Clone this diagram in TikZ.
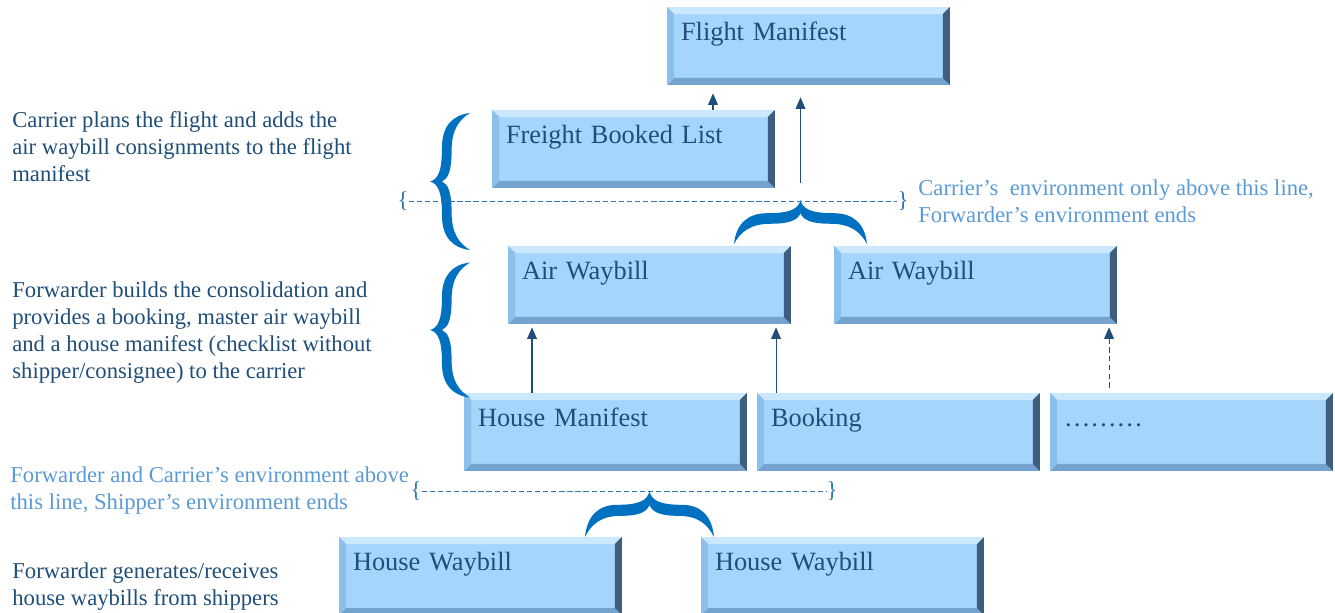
\documentclass[tikz,border=0pt]{standalone}
\usepackage{fontspec}
\setmainfont{Liberation Serif}
\usetikzlibrary{arrows.meta}
\definecolor{boxfill}{HTML}{A6D5FB}
\definecolor{bevtop}{HTML}{CBE9FE}
\definecolor{bevleft}{HTML}{8CC0EC}
\definecolor{bevbot}{HTML}{74A4CE}
\definecolor{bevright}{HTML}{3D5E7E}
\definecolor{navy}{HTML}{1F4E79}
\definecolor{envblue}{HTML}{5B9BD5}
\definecolor{lineblue}{HTML}{2E75B6}
\definecolor{braceblue}{HTML}{0070C0}
\def\bevw{0.14cm}
\tikzstyle{bevelbox}=[path picture={
  \path (path picture bounding box.north west) coordinate (bnw)
        (path picture bounding box.north east) coordinate (bne)
        (path picture bounding box.south west) coordinate (bsw)
        (path picture bounding box.south east) coordinate (bse);
  \fill[bevtop] (bnw) -- (bne) -- ([shift={(-\bevw,-\bevw)}]bne) -- ([shift={(\bevw,-\bevw)}]bnw) -- cycle;
  \fill[bevbot] (bsw) -- (bse) -- ([shift={(-\bevw,\bevw)}]bse) -- ([shift={(\bevw,\bevw)}]bsw) -- cycle;
  \fill[bevleft] (bnw) -- (bsw) -- ([shift={(\bevw,\bevw)}]bsw) -- ([shift={(\bevw,-\bevw)}]bnw) -- cycle;
  \fill[bevright] (bne) -- (bse) -- ([shift={(-\bevw,\bevw)}]bse) -- ([shift={(-\bevw,-\bevw)}]bne) -- cycle;}]
\tikzstyle{wb}=[shape=rectangle, fill=boxfill, bevelbox,
                minimum width=5.66cm, minimum height=1.56cm,
                inner xsep=0.28cm, inner ysep=0pt, text width=5.1cm,
                text height=0.66cm, text depth=0.9cm, align=left,
                text=navy, font=\fontsize{15}{18}\selectfont]
\tikzstyle{note}=[anchor=west, align=left, inner sep=0pt, text=navy,
                font=\fontsize{12.9}{15.3}\selectfont]
\tikzstyle{envnote}=[note, text=envblue]
% calligraphic brace, tip at the origin, depth 1 and half length 1
\tikzstyle{cbr}=[fill=braceblue, insert path={
  (1,1) .. controls (0.55,0.97) and (0.3,0.8) .. (0.3,0.5)
  .. controls (0.3,0.15) and (0.2,0.03) .. (0,0)
  .. controls (0.2,-0.03) and (0.3,-0.15) .. (0.3,-0.5)
  .. controls (0.3,-0.8) and (0.55,-0.97) .. (1,-1)
  .. controls (0.72,-0.9) and (0.54,-0.75) .. (0.54,-0.45)
  .. controls (0.54,-0.15) and (0.45,-0.04) .. (0.3,0)
  .. controls (0.45,0.04) and (0.54,0.15) .. (0.54,0.45)
  .. controls (0.54,0.75) and (0.72,0.9) .. (1,1) -- cycle}]
\tikzstyle{envbr}=[inner sep=0pt, text=lineblue,
                font=\fontsize{13}{15}\selectfont]
\tikzstyle{envline}=[lineblue, line width=0.5pt, dash pattern=on 3pt off 1.6pt]
\tikzstyle{arr}=[->, navy, semithick]

\begin{document}
\begin{tikzpicture}[x=0.02cm, y=-0.02cm, >={Triangle[length=6.5pt, width=5.5pt]}]
\useasboundingbox (0,0) rectangle (1335,612);

% boxes
\node[wb] (fm) at (808.5,46) {Flight Manifest};
\node[wb] (fbl) at (633.5,149) {Freight Booked List};
\node[wb] (aw1) at (649.5,285) {Air Waybill};
\node[wb] (aw2) at (975.5,285) {Air Waybill};
\node[wb] (hm) at (605.5,432) {House Manifest};
\node[wb] (bk) at (898.5,432) {Booking};
\node[wb] (dots) at (1191.5,432) {………};
\node[wb] (hw1) at (480.5,576) {House Waybill};
\node[wb] (hw2) at (842.5,576) {House Waybill};

% braces
\coordinate (lt1) at (430,181.5);
\coordinate (lt2) at (430,330);
\coordinate (tip1) at (800.5,200);
\coordinate (tip2) at (649.5,491);
\path[shift={(lt1)}, xscale=40, yscale=68.5, cbr];
\path[shift={(lt2)}, xscale=40, yscale=67.5, cbr];
\path[shift={(tip1)}, rotate=-90, xscale=44, yscale=66.5, cbr];
\path[shift={(tip2)}, rotate=-90, xscale=46, yscale=64.5, cbr];

% environment lines
\node[envbr] (d1l) at (403,201) {\{};
\node[envbr] (d1r) at (903,201) {\}};
\node[envbr] (d2l) at (416,491) {\{};
\node[envbr] (d2r) at (832,491) {\}};
\draw[envline] (d1l) -- (d1r);
\draw[envline] (d2l) -- (d2r);

% notes
\node[note] (t1) at (12,147) {Carrier plans the flight and adds the\\air waybill consignments to the flight\\manifest};
\node[note] (t2) at (12,332.5) {Forwarder builds the consolidation and\\provides a booking, master air waybill\\and a house manifest (checklist without\\shipper/consignee) to the carrier};
\node[note] (t3) at (12,587) {Forwarder generates/receives\\house waybills from shippers};
\node[envnote] (e1) at (918,201) {Carrier’s\ \ environment only above this line,\\Forwarder’s environment ends};
\node[envnote] (e2) at (10,490.5) {Forwarder and Carrier’s environment above\\this line, Shipper’s environment ends};

% arrows
\coordinate (s1) at ([xshift=1.59cm]fbl.north);
\coordinate (s3) at ([xshift=-1.47cm]hm.north);
\coordinate (s4) at ([xshift=-2.45cm]bk.north);
\coordinate (s5) at ([xshift=-1.65cm]dots.north);
\draw[arr, densely dashed, shorten >=0.16cm] (s1) -- (s1 |- fm.south);
\draw[arr, shorten <=0.34cm, shorten >=0.24cm] (tip1) -- (tip1 |- fm.south);
\draw[arr, shorten >=0.06cm] (s3) -- (s3 |- aw1.south);
\draw[arr, shorten >=0.06cm] (s4) -- (s4 |- aw1.south);
\draw[arr, densely dashed, shorten <=0.1cm, shorten >=0.06cm] (s5) -- (s5 |- aw2.south);

\end{tikzpicture}
\end{document}
